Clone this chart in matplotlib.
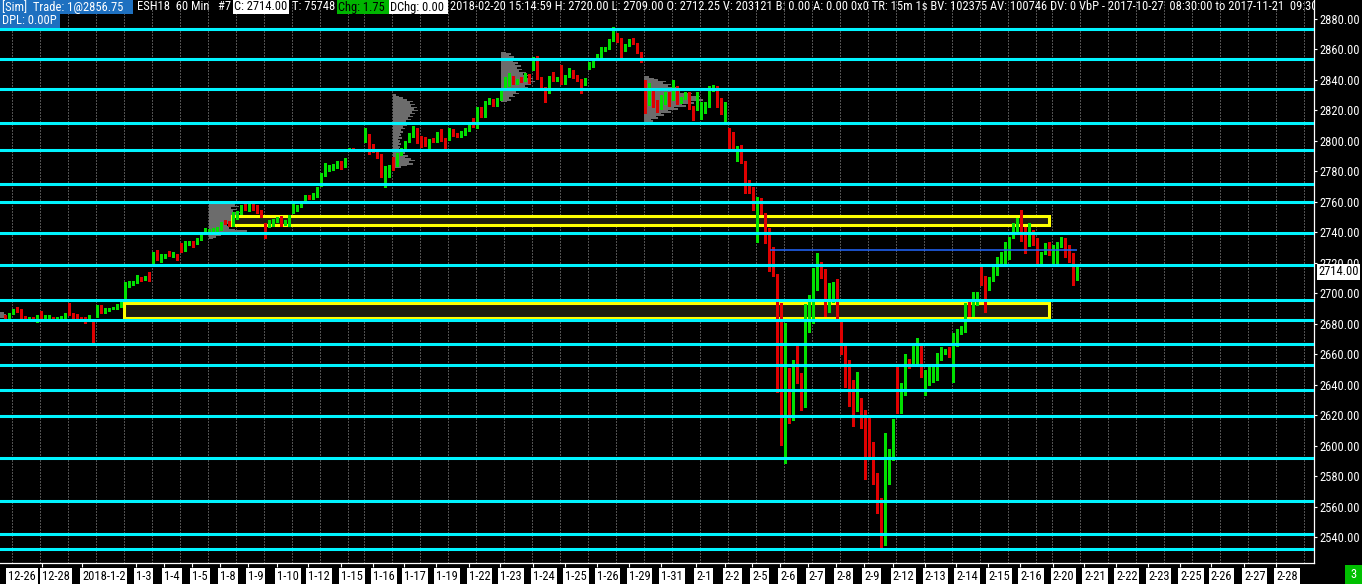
import numpy as np
import matplotlib
matplotlib.use('Agg')
import matplotlib.pyplot as plt
import matplotlib.transforms as mtransforms
from matplotlib import font_manager
from matplotlib.patches import Rectangle

# pick a narrow font if there is one
names = {f.name for f in font_manager.fontManager.ttflist}
FONT, FS = 'Liberation Sans', 8.0
for cand in ['Liberation Sans Narrow', 'Roboto Condensed', 'Open Sans Condensed', 'Arial Narrow']:
    if cand in names:
        FONT, FS = cand, 9.0
        break
plt.rcParams['font.family'] = [FONT, 'DejaVu Sans']

# ESH18 60 min bars (O, H, L, C), 2017-12-26 .. 2018-02-20
opens = [
    2685.1, 2684.0, 2686.9, 2689.0, 2689.0, 2684.7, 2683.6, 2684.0, 2683.6, 2688.0,
    2683.6, 2683.6, 2684.0, 2683.6, 2683.6, 2683.6, 2693.0, 2686.9, 2684.7, 2684.0,
    2684.0, 2683.6, 2682.1, 2685.8, 2691.7, 2688.4, 2689.0, 2689.9, 2690.0, 2692.1,
    2696.3, 2705.5, 2705.7, 2707.0, 2710.1, 2709.2, 2711.4, 2718.6, 2726.2, 2721.9,
    2723.6, 2726.2, 2724.7, 2725.6, 2732.1, 2728.0, 2732.4, 2733.7, 2732.8, 2735.4,
    2740.0, 2739.4, 2740.5, 2741.6, 2742.2, 2747.5, 2747.0, 2744.8, 2749.4, 2752.5,
    2757.5, 2754.7, 2759.0, 2755.8, 2753.0, 2744.4, 2743.7, 2744.8, 2747.0, 2748.8,
    2745.9, 2744.8, 2753.3, 2754.7, 2757.3, 2760.8, 2763.9, 2762.3, 2763.9, 2772.2,
    2777.6, 2780.9, 2781.5, 2782.5, 2786.2, 2783.1, 2794.0, 2795.1, 2794.3, 2794.6,
    2799.5, 2803.9, 2796.7, 2793.0, 2790.8, 2776.5, 2783.1, 2789.0, 2784.2, 2791.4,
    2795.1, 2799.5, 2803.2, 2808.3, 2802.8, 2798.9, 2797.3, 2801.3, 2799.5, 2806.1,
    2801.7, 2803.9, 2807.2, 2804.5, 2802.8, 2804.5, 2807.2, 2811.5, 2809.3, 2821.4,
    2816.3, 2824.7, 2826.9, 2823.6, 2827.3, 2834.5, 2836.7, 2842.1, 2837.8, 2841.5,
    2839.5, 2843.3, 2847.0, 2852.7, 2841.7, 2835.2, 2831.7, 2842.2, 2839.5, 2847.6,
    2837.8, 2842.2, 2845.9, 2842.6, 2840.0, 2837.3, 2849.4, 2849.2, 2854.2, 2855.7,
    2859.2, 2860.8, 2866.0, 2869.5, 2866.5, 2859.7, 2862.9, 2866.8, 2863.6, 2858.1,
    2832.3, 2830.1, 2831.7, 2825.8, 2821.4, 2824.7, 2827.3, 2830.1, 2834.5, 2825.1,
    2828.0, 2831.7, 2822.5, 2820.7, 2816.3, 2820.3, 2822.5, 2834.5, 2835.0, 2823.6,
    2818.5, 2806.1, 2802.1, 2793.0, 2795.8, 2786.4, 2772.2, 2768.9, 2740.5, 2759.0,
    2752.5, 2736.7, 2717.1, 2712.0, 2693.0, 2600.5, 2634.4, 2628.3, 2654.5, 2647.5,
    2628.3, 2675.0, 2685.8, 2705.5, 2715.7, 2715.3, 2696.1, 2701.7, 2705.5, 2681.4,
    2661.1, 2640.5, 2632.6, 2623.4, 2630.4, 2620.2, 2608.6, 2599.8, 2580.8, 2563.0,
    2541.0, 2586.7, 2591.1, 2638.3, 2626.7, 2638.3, 2656.7, 2654.5, 2662.8, 2665.0,
    2639.2, 2642.5, 2644.2, 2646.0, 2657.3, 2660.6, 2662.8, 2643.6, 2668.3, 2673.8,
    2674.8, 2687.3, 2685.8, 2694.5, 2716.4, 2710.3, 2704.8, 2708.3, 2714.2, 2721.9,
    2722.9, 2722.9, 2736.7, 2740.5, 2748.1, 2735.4, 2731.7, 2738.3, 2735.4, 2720.8,
    2726.2, 2732.4, 2720.1, 2722.5, 2732.4, 2734.3, 2726.2, 2722.5, 2712.25,
]
highs = [
    2686.0, 2687.3, 2689.9, 2690.8, 2689.5, 2685.3, 2684.5, 2684.5, 2686.0, 2688.6,
    2685.5, 2685.8, 2684.7, 2684.5, 2684.9, 2686.9, 2693.9, 2687.3, 2686.2, 2684.5,
    2684.5, 2685.8, 2682.5, 2692.5, 2692.3, 2690.6, 2690.6, 2691.2, 2692.8, 2694.5,
    2707.2, 2708.3, 2708.0, 2712.0, 2711.0, 2711.6, 2714.2, 2726.8, 2728.4, 2725.6,
    2725.6, 2727.8, 2727.1, 2726.0, 2732.8, 2734.3, 2734.3, 2734.3, 2736.4, 2738.3,
    2742.8, 2742.2, 2743.1, 2743.7, 2747.0, 2748.0, 2747.5, 2753.1, 2754.0, 2758.0,
    2758.6, 2759.5, 2759.5, 2758.0, 2754.7, 2746.0, 2748.1, 2748.5, 2749.8, 2750.9,
    2748.0, 2751.2, 2758.4, 2757.8, 2760.8, 2764.4, 2764.4, 2765.6, 2769.8, 2779.2,
    2785.3, 2784.2, 2784.6, 2786.7, 2786.7, 2788.9, 2795.5, 2795.6, 2795.0, 2795.0,
    2808.3, 2804.4, 2798.0, 2793.5, 2791.3, 2783.6, 2784.5, 2789.5, 2791.9, 2795.4,
    2800.0, 2805.0, 2809.8, 2808.8, 2803.3, 2802.8, 2801.0, 2801.8, 2805.9, 2807.6,
    2802.2, 2808.2, 2807.7, 2805.0, 2806.6, 2808.8, 2811.6, 2814.8, 2822.0, 2822.5,
    2826.0, 2828.4, 2827.4, 2828.2, 2835.0, 2841.7, 2844.4, 2842.6, 2840.9, 2842.0,
    2844.4, 2843.8, 2855.3, 2855.7, 2842.2, 2835.7, 2842.7, 2845.4, 2842.2, 2849.8,
    2843.1, 2847.6, 2846.4, 2843.1, 2840.5, 2841.6, 2852.0, 2853.6, 2857.0, 2861.8,
    2861.8, 2867.0, 2875.0, 2871.0, 2867.5, 2863.5, 2867.2, 2867.5, 2864.1, 2858.6,
    2840.0, 2837.8, 2833.0, 2827.0, 2830.1, 2832.3, 2832.3, 2840.0, 2836.0, 2829.1,
    2832.4, 2832.2, 2823.0, 2832.3, 2825.7, 2825.7, 2836.0, 2837.0, 2836.0, 2828.0,
    2825.7, 2808.3, 2806.0, 2796.7, 2797.0, 2787.0, 2774.4, 2769.5, 2763.0, 2762.3,
    2753.0, 2742.6, 2730.6, 2712.5, 2693.5, 2680.3, 2650.8, 2656.3, 2665.4, 2648.0,
    2693.0, 2698.9, 2716.4, 2726.2, 2720.8, 2716.0, 2706.6, 2707.6, 2709.2, 2682.0,
    2665.7, 2656.3, 2643.1, 2648.4, 2631.0, 2623.4, 2618.6, 2602.7, 2582.0, 2566.0,
    2608.6, 2597.6, 2617.4, 2651.9, 2641.0, 2660.2, 2657.2, 2666.1, 2670.9, 2667.6,
    2649.7, 2651.9, 2651.9, 2660.6, 2665.0, 2663.3, 2665.0, 2673.8, 2676.6, 2678.6,
    2693.4, 2694.5, 2701.1, 2701.1, 2717.5, 2711.4, 2710.5, 2717.1, 2724.1, 2727.3,
    2733.9, 2737.2, 2745.9, 2749.2, 2754.7, 2743.7, 2745.9, 2741.6, 2736.0, 2727.3,
    2733.0, 2733.5, 2732.0, 2733.9, 2737.2, 2736.1, 2731.7, 2726.2, 2717.5,
]
lows = [
    2683.0, 2683.6, 2686.4, 2687.5, 2683.6, 2683.2, 2683.2, 2683.0, 2681.4, 2683.6,
    2683.2, 2683.2, 2683.0, 2683.2, 2683.2, 2683.2, 2686.0, 2683.2, 2683.0, 2683.0,
    2680.7, 2683.2, 2668.3, 2684.5, 2686.9, 2687.3, 2688.4, 2689.4, 2689.6, 2690.8,
    2695.8, 2704.4, 2705.2, 2706.5, 2708.0, 2708.6, 2708.2, 2718.0, 2721.8, 2720.8,
    2723.0, 2724.6, 2724.1, 2721.9, 2726.8, 2727.5, 2731.9, 2730.6, 2732.2, 2734.9,
    2739.5, 2739.0, 2740.0, 2741.2, 2741.8, 2745.5, 2744.3, 2744.3, 2749.0, 2752.0,
    2754.7, 2754.2, 2754.8, 2752.4, 2750.2, 2736.5, 2743.2, 2744.3, 2746.5, 2744.0,
    2745.0, 2744.3, 2752.8, 2754.2, 2756.8, 2760.3, 2761.8, 2761.8, 2763.4, 2770.4,
    2777.0, 2780.4, 2781.0, 2782.0, 2781.6, 2782.6, 2793.6, 2793.8, 2794.0, 2794.0,
    2799.0, 2791.2, 2792.5, 2788.6, 2776.0, 2769.5, 2776.5, 2780.9, 2783.7, 2790.9,
    2794.6, 2799.0, 2802.7, 2798.4, 2796.2, 2796.8, 2794.5, 2799.0, 2799.0, 2800.1,
    2795.3, 2800.6, 2803.4, 2802.3, 2802.3, 2804.0, 2806.7, 2808.9, 2808.8, 2815.8,
    2815.8, 2824.2, 2823.1, 2823.1, 2826.8, 2834.0, 2836.2, 2837.3, 2837.3, 2838.4,
    2839.0, 2837.9, 2846.5, 2840.6, 2833.4, 2825.8, 2831.2, 2839.5, 2839.0, 2837.3,
    2837.3, 2841.7, 2841.0, 2839.5, 2831.2, 2836.8, 2847.0, 2848.7, 2853.7, 2855.2,
    2858.7, 2860.3, 2865.5, 2865.0, 2855.3, 2859.2, 2862.4, 2863.5, 2857.4, 2852.0,
    2818.1, 2823.6, 2822.0, 2819.0, 2820.9, 2824.2, 2823.1, 2826.8, 2824.0, 2824.6,
    2827.5, 2820.9, 2813.7, 2820.2, 2814.2, 2818.1, 2822.0, 2833.0, 2822.4, 2817.6,
    2812.6, 2795.0, 2793.5, 2787.0, 2785.2, 2766.0, 2765.6, 2754.7, 2733.9, 2752.0,
    2732.8, 2714.8, 2711.5, 2635.5, 2600.5, 2588.4, 2614.7, 2616.9, 2641.0, 2623.4,
    2625.6, 2674.5, 2680.3, 2702.2, 2709.8, 2685.0, 2688.0, 2694.5, 2683.0, 2660.5,
    2638.8, 2626.1, 2613.0, 2622.9, 2611.4, 2578.0, 2592.8, 2575.0, 2556.0, 2532.5,
    2535.0, 2575.0, 2590.5, 2621.3, 2621.7, 2633.3, 2650.8, 2654.0, 2654.5, 2645.3,
    2633.3, 2639.9, 2642.0, 2643.1, 2656.3, 2660.1, 2658.5, 2642.0, 2665.4, 2673.3,
    2674.3, 2685.3, 2685.3, 2692.3, 2705.5, 2688.0, 2702.2, 2707.8, 2712.0, 2719.7,
    2718.6, 2722.4, 2736.1, 2740.0, 2734.5, 2726.2, 2731.2, 2731.7, 2719.7, 2719.7,
    2725.7, 2725.1, 2718.6, 2718.6, 2730.6, 2724.1, 2720.8, 2705.5, 2709.0,
]
closes = [
    2683.6, 2686.4, 2689.0, 2688.0, 2684.0, 2683.6, 2683.9, 2683.4, 2685.3, 2684.0,
    2684.7, 2684.7, 2683.4, 2683.9, 2684.3, 2685.8, 2686.4, 2683.6, 2683.4, 2683.4,
    2683.4, 2684.7, 2671.1, 2691.7, 2688.4, 2689.4, 2689.9, 2690.6, 2692.3, 2693.0,
    2706.6, 2707.2, 2707.4, 2710.1, 2708.7, 2710.9, 2708.7, 2726.2, 2722.3, 2724.1,
    2725.1, 2725.1, 2726.2, 2723.2, 2727.3, 2733.2, 2733.7, 2732.8, 2735.9, 2737.8,
    2742.2, 2741.6, 2742.6, 2743.1, 2746.6, 2745.9, 2744.8, 2747.5, 2752.5, 2757.5,
    2755.1, 2759.0, 2755.3, 2752.9, 2750.7, 2743.7, 2746.6, 2747.7, 2749.2, 2744.4,
    2747.0, 2750.7, 2755.5, 2757.3, 2759.0, 2763.9, 2762.3, 2764.5, 2769.3, 2778.3,
    2781.6, 2782.5, 2783.1, 2786.2, 2783.1, 2788.4, 2794.9, 2794.3, 2794.6, 2794.3,
    2803.9, 2796.2, 2793.0, 2790.1, 2776.5, 2783.1, 2783.8, 2784.2, 2791.4, 2794.9,
    2799.5, 2803.9, 2805.4, 2802.8, 2798.4, 2797.3, 2800.6, 2799.5, 2805.4, 2800.6,
    2795.8, 2807.2, 2803.9, 2802.8, 2806.1, 2808.3, 2811.1, 2810.5, 2821.4, 2816.3,
    2825.5, 2827.3, 2823.6, 2827.7, 2834.5, 2837.8, 2841.7, 2837.8, 2840.4, 2838.9,
    2842.1, 2838.4, 2853.1, 2841.1, 2834.5, 2831.2, 2842.2, 2840.0, 2841.7, 2837.8,
    2842.6, 2845.9, 2841.5, 2840.0, 2837.3, 2841.1, 2850.5, 2853.1, 2856.4, 2859.7,
    2861.2, 2866.2, 2871.5, 2866.5, 2860.1, 2862.9, 2866.5, 2864.0, 2857.9, 2854.8,
    2824.7, 2831.7, 2824.7, 2821.4, 2827.3, 2828.6, 2823.6, 2832.3, 2825.8, 2828.6,
    2831.9, 2822.5, 2820.7, 2829.5, 2821.4, 2822.9, 2833.0, 2835.6, 2822.9, 2819.2,
    2822.5, 2798.0, 2794.0, 2796.2, 2785.7, 2768.0, 2768.2, 2756.9, 2762.3, 2752.5,
    2736.7, 2715.3, 2712.0, 2693.4, 2606.0, 2634.4, 2628.3, 2654.5, 2647.5, 2628.3,
    2692.3, 2689.1, 2706.1, 2715.3, 2714.2, 2685.8, 2702.2, 2704.8, 2683.6, 2661.1,
    2640.5, 2632.2, 2623.4, 2631.1, 2620.2, 2588.4, 2599.4, 2580.8, 2562.0, 2539.0,
    2587.4, 2591.1, 2616.9, 2626.7, 2638.8, 2656.7, 2654.5, 2661.7, 2665.0, 2654.5,
    2643.6, 2644.2, 2646.4, 2657.3, 2660.6, 2662.8, 2660.6, 2668.3, 2673.8, 2675.9,
    2686.9, 2685.8, 2694.5, 2696.5, 2708.7, 2704.8, 2709.4, 2715.3, 2722.5, 2724.1,
    2732.4, 2736.7, 2739.4, 2748.1, 2735.0, 2731.7, 2741.6, 2733.9, 2720.8, 2726.2,
    2732.4, 2727.3, 2723.6, 2732.8, 2734.3, 2725.8, 2721.9, 2711.4, 2714.0,
]

# first bar of each session (dotted day separators)
session_starts = [2, 9, 16, 23, 30, 37, 44, 51, 58, 65, 72, 79, 86, 90, 97, 104, 111,
                  118, 125, 132, 139, 146, 153, 160, 167, 174, 181, 188, 195, 202, 209,
                  216, 223, 230, 237, 244, 251, 258, 262, 269, 276, 283, 290, 297, 304,
                  311, 318, 325]

# date labels on the time axis and the bar slot where each one starts
date_labels = ['12-28', '2018-1-2', '1-3', '1-4', '1-5', '1-8', '1-9', '1-10', '1-12',
               '1-15', '1-16', '1-17', '1-19', '1-22', '1-23', '1-24', '1-25', '1-26',
               '1-29', '1-31', '2-1', '2-2', '2-5', '2-6', '2-7', '2-8', '2-9', '2-12',
               '2-13', '2-14', '2-15', '2-16', '2-20', '2-21', '2-22', '2-23', '2-25',
               '2-26', '2-27', '2-28']
date_slots = [9.2, 19.2, 32.7, 39.7, 46.7, 53.7, 60.7, 67.9, 75.7, 83.9, 91.9, 99.7,
              107.7, 115.9, 123.7, 131.9, 139.9, 147.9, 155.9, 163.9, 172.7, 179.9,
              186.7, 193.7, 200.7, 207.7, 214.7, 221.9, 229.9, 237.7, 245.7, 253.7,
              261.9, 269.7, 277.7, 285.7, 293.7, 301.4, 309.7, 317.7]
first_label = '12-26'

# horizontal support / resistance levels
levels = [2873.5, 2853.5, 2834.0, 2811.5, 2794.0, 2771.5, 2759.75, 2739.5, 2718.5,
          2695.5, 2682.25, 2666.5, 2652.75, 2636.5, 2619.25, 2591.75, 2563.75,
          2541.75, 2532.25]

# yellow zones
zone_from = [56.7, 29.75]
zone_to = [260.9, 260.9]
zone_lo = [2744.6, 2683.8]
zone_hi = [2750.5, 2693.8]

# thin blue reference line
ref_price = 2728.3
ref_from, ref_to = 191.2, 268

# volume-at-price profiles: start bar, lowest price, widths (px) per 1 point
prof_start = [-1.3, 50.9, 96.9, 123.9, 159.7]
prof_low = [2684, 2736, 2783, 2826, 2812]
prof_widths = [
    [5, 7, 6, 4],
    [4, 7, 12, 18, 30, 38, 26, 20, 27, 18, 24, 30, 26, 38, 42, 36, 30, 34, 24, 28,
     22, 30, 26, 28, 20],
    [8, 14, 20, 16, 22, 18, 12, 15, 10, 12, 8, 9, 6, 7, 5, 8, 6, 7, 5, 9, 6, 8, 7, 10,
     8, 12, 10, 14, 11, 16, 13, 18, 15, 20, 17, 22, 19, 25, 21, 24, 18, 22, 17, 20,
     14, 10, 6, 3],
    [6, 10, 8, 14, 12, 18, 15, 22, 20, 27, 24, 30, 27, 34, 30, 32, 26, 29, 22, 25, 18,
     21, 16, 20, 14, 17, 12, 16, 11, 13, 8, 10, 5],
    [5, 9, 7, 14, 12, 20, 17, 27, 24, 34, 30, 42, 38, 50, 46, 59, 52, 56, 44, 48, 36,
     40, 30, 33, 24, 27, 19, 22, 14, 10, 5],
]

last_price = 2714.00
header_left = '[Sim]  Trade: 1@2856.75'
header_sym = 'ESH18  60 Min   #7'
header_close = 'C: 2714.00'
header_ticks = 'T: 75748'
header_chg = 'Chg: 1.75'
header_dchg = 'DChg: 0.00'
header_rest = ('2018-02-20 15:14:59 H: 2720.00 L: 2709.00 O: 2712.25 V: 203121 B: 0.00 '
               'A: 0.00 0x0 TR: 15m 1s BV: 102375 AV: 100746 DV: 0 VbP - 2017-10-27  '
               '08:30:00 to 2017-11-21  09:30:00')
header_dpl = 'DPL: 0.00P'

GREEN = '#00e000'
RED = '#e00000'
CYAN = '#00f4ff'
W, H = 1362, 584


def fx(px):
    return px / W


def fy(py):
    return 1 - py / H


fig = plt.figure(figsize=(W / 100, H / 100), dpi=100, facecolor='black')
ax = fig.add_axes([0, fy(563), fx(1314), 563 / H])
ax.set_facecolor('black')
ax.set_xlim(-1.325, 327.175)
ax.set_ylim(2523.04, 2892.47)

# day separators
for s in session_starts:
    ax.axvline(s - 0.25, color='#a0a0a0', lw=0.72, ls=(0, (1, 2)), zorder=0.5)

# zones
for x0, x1, lo, hi in zip(zone_from, zone_to, zone_lo, zone_hi):
    ax.add_patch(Rectangle((x0, lo), x1 - x0, hi - lo, facecolor='#1f1d10',
                           edgecolor='#ffff00', lw=2.2, zorder=2))

# volume profiles
for x0, p0, wd in zip(prof_start, prof_low, prof_widths):
    prices = p0 + np.arange(len(wd))
    ax.barh(prices, np.array(wd) / 4.0, left=x0, height=1.0, color='#6c6c6c',
            lw=0, zorder=1.5)

# candles
o = np.array(opens)
h = np.array(highs)
l = np.array(lows)
c = np.array(closes)
idx = np.arange(len(o))
col = np.where(c >= o, GREEN, RED)
ax.vlines(idx, l, h, colors=col, lw=0.75, zorder=3, antialiased=False)
ax.bar(idx, np.maximum(np.abs(c - o), 0.7), bottom=np.minimum(o, c), width=0.75,
       color=col, lw=0, zorder=3.1, antialiased=False)

# levels
for lv in levels:
    ax.axhline(lv, color=CYAN, lw=2.2, zorder=4)
ax.hlines(ref_price, ref_from, ref_to, color='#2266ff', lw=1.1, zorder=4.5)

# axes styling
for side in ['left', 'top']:
    ax.spines[side].set_visible(False)
for side in ['right', 'bottom']:
    ax.spines[side].set_color('white')
    ax.spines[side].set_linewidth(0.9)
ax.yaxis.tick_right()
ax.set_yticks(np.arange(2540, 2881, 20))
ax.set_yticklabels(['%.2f' % v for v in np.arange(2540, 2881, 20)])
ax.tick_params(axis='y', colors='white', length=2.5, width=0.8, pad=1.5,
               labelsize=FS)
ax.set_xticks(date_slots)
ax.set_xticklabels([])
ax.tick_params(axis='x', colors='white', length=3, width=0.8)

lab_tr = mtransforms.blended_transform_factory(ax.transData, ax.transAxes)
yl = -13 / 563
ax.text(7.7, yl, first_label, transform=lab_tr, ha='right', va='center',
        fontsize=FS, color='black', clip_on=False,
        bbox=dict(boxstyle='square,pad=0.15', fc='white', ec='none'))
for s, t in zip(date_slots, date_labels):
    ax.text(s, yl, t, transform=lab_tr, ha='left', va='center', fontsize=FS,
            color='black', clip_on=False,
            bbox=dict(boxstyle='square,pad=0.15', fc='white', ec='none'))

# last price marker
ax.annotate('%.2f' % last_price, xy=(1, last_price), xycoords=('axes fraction', 'data'),
            xytext=(3, 0), textcoords='offset points', va='center', ha='left',
            fontsize=FS, color='black', annotation_clip=False, zorder=10,
            bbox=dict(boxstyle='square,pad=0.12', fc='white', ec='none'))

# header strip
def box(x0, x1, y0, y1, color):
    fig.add_artist(Rectangle((fx(x0), fy(y1)), fx(x1 - x0), (y1 - y0) / H,
                             transform=fig.transFigure, facecolor=color, lw=0,
                             zorder=20))


def htext(x, y, s, color):
    fig.text(fx(x), fy(y), s, color=color, fontsize=FS, ha='left', va='center',
             zorder=21)


box(0, 133, 0, 14, '#1e70c0')
box(233, 289, 0, 14, 'white')
box(337, 389, 0, 14, '#00b400')
box(389, 448, 0, 14, 'white')
box(0, 60, 14, 28, '#1e70c0')
htext(2, 7, header_left, 'white')
htext(137, 7, header_sym, 'white')
htext(234, 7, header_close, 'black')
htext(292, 7, header_ticks, 'white')
htext(338, 7, header_chg, 'black')
htext(390, 7, header_dchg, 'black')
htext(2, 21, header_dpl, 'white')
ax.text(450 / 1314, 1 - 7 / 563, header_rest, transform=ax.transAxes, color='white',
        fontsize=FS, ha='left', va='center', clip_on=True, zorder=21)

box(1345, 1362, 565, 584, '#00c000')
htext(1350, 574.5, '3', 'white')

fig.savefig('out.png', dpi=100, facecolor='black')
